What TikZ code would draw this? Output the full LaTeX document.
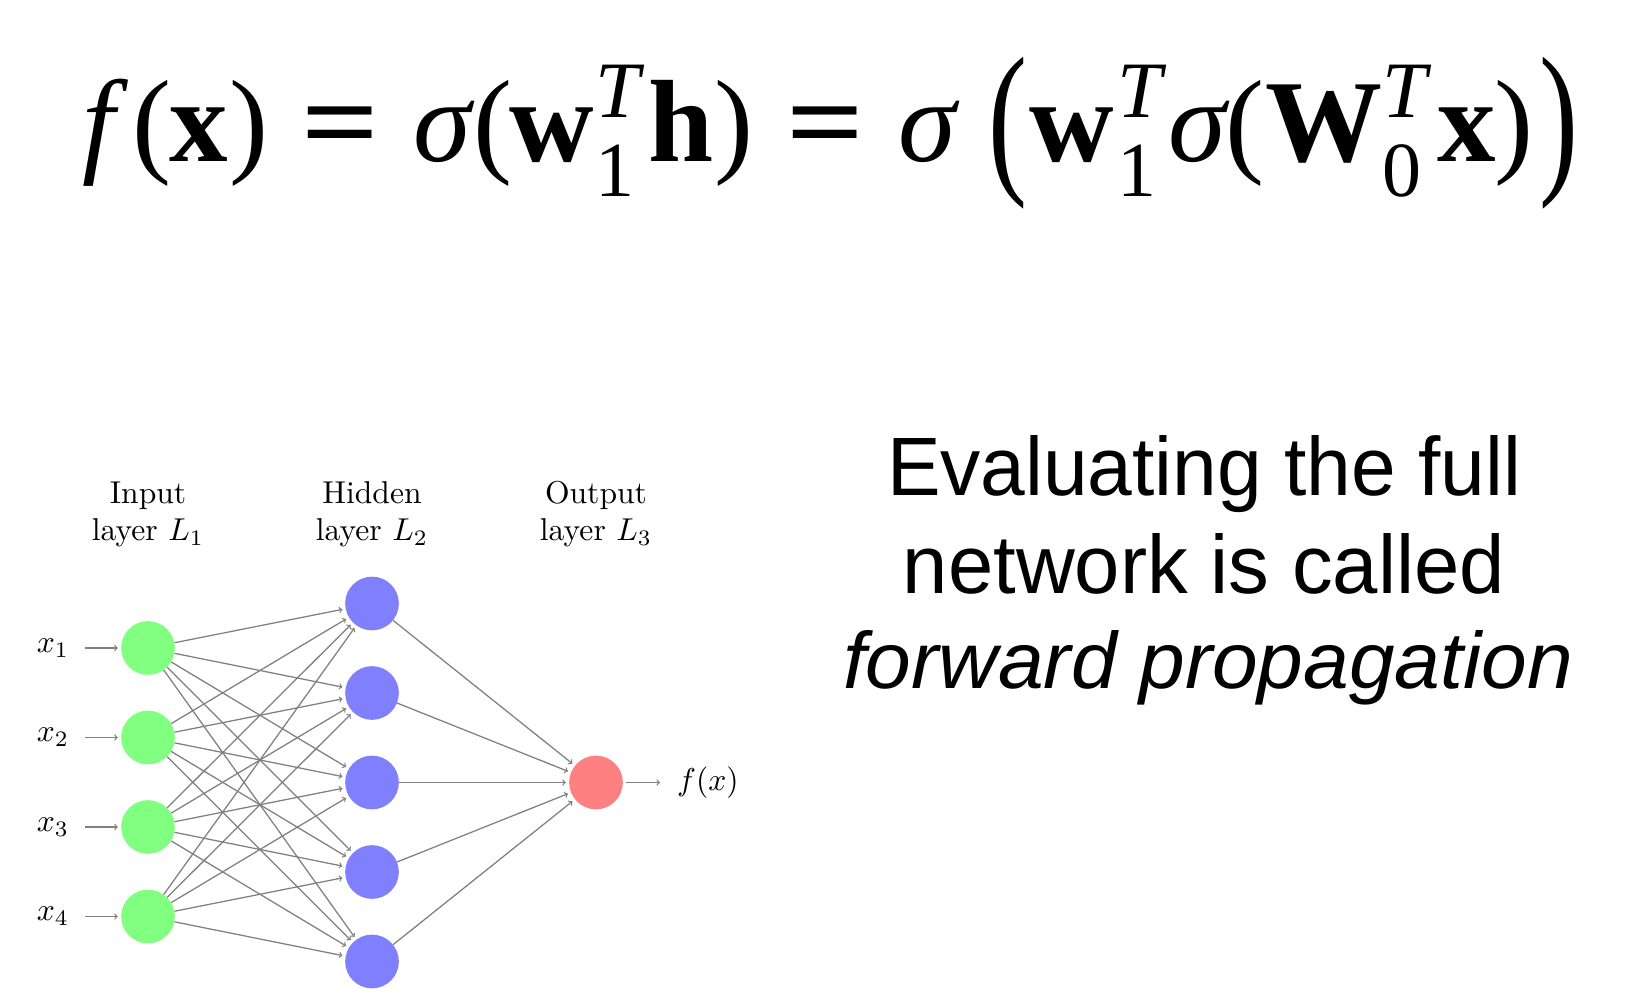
\documentclass[tikz,border=0pt]{standalone}
\usepackage{fontspec}
\usepackage{graphicx}
\newfontfamily\tms{Liberation Serif}
\newfontfamily\hel{Liberation Sans}
% place a glyph group with its origin at horizontal offset #1 (pt)
\newcommand\gl[2]{\rlap{\hspace*{#1pt}#2}}
\newcommand\eqs{\scalebox{1.17}[1]{\bfseries =}}
\newcommand\supT{\fontsize{80}{80}\selectfont\raisebox{44pt}{\itshape T}}
\newcommand\subn[1]{\fontsize{78}{78}\selectfont\raisebox{-35pt}{#1}}
\newcommand\bigparen[1]{\raisebox{-11.3pt}{\scalebox{1}[1.433]{#1}}}
% network labels: 10pt text scaled like the original figure
\newcommand\nl[1]{\scalebox{3.16}{\fontsize{10}{12}\selectfont #1}}
\tikzset{
  neuron/.style={circle,minimum size=53.7pt,inner sep=0pt,draw=none},
  inneuron/.style={neuron,fill=green!50},
  hidneuron/.style={neuron,fill=blue!50},
  outneuron/.style={neuron,fill=red!50},
  conn/.style={->,draw=black!50,line width=1.26pt,shorten >=3.16pt},
  netlabel/.style={inner sep=0pt},
  annot/.style={netlabel,anchor=base},
  bigtext/.style={inner sep=0pt,anchor=base}
}
\begin{document}
\begin{tikzpicture}[x=1pt,y=1pt]
\useasboundingbox (0,0) rectangle (1628,-1000);
\fill[white] (0,0) rectangle (1628,-1000);

% formula
\node[inner sep=0pt,anchor=base west] (formula) at (0,-162)
 {\tms\fontsize{117}{120}\selectfont
  \gl{82}{\itshape f}\gl{131.4}{(}\gl{169}{\bfseries x}\gl{228.6}{)}%
  \gl{300.5}{\eqs}%
  \gl{413}{\itshape σ}\gl{472.4}{(}\gl{509.3}{\bfseries w}\gl{595}{\supT}\gl{595}{\subn{1}}%
  \gl{648}{\bfseries h}\gl{713.6}{)}%
  \gl{785.5}{\eqs}%
  \gl{898}{\itshape σ}\gl{987.4}{\bigparen{(}}\gl{1029.3}{\bfseries w}\gl{1117.3}{\supT}\gl{1117}{\subn{1}}%
  \gl{1168}{\itshape σ}\gl{1224.4}{(}\gl{1264.8}{\bfseries W}\gl{1382.3}{\supT}\gl{1382}{\subn{0}}%
  \gl{1436.4}{\bfseries x}\gl{1493.6}{)}\gl{1538.6}{\bigparen{)}}};

% right text
\node[bigtext] (t1) at (1204,-495) {\resizebox{634pt}{60pt}{\hel\fontsize{80}{80}\selectfont Evaluating the full}};
\node[bigtext] (t2) at (1204,-593) {\resizebox{602pt}{60pt}{\hel\fontsize{80}{80}\selectfont network is called}};
\node[bigtext] (t3) at (1208,-688) {\resizebox{730pt}{58pt}{\hel\itshape\fontsize{80}{80}\selectfont forward propagation}};

% neurons
\foreach \i/\y in {1/648,2/737.5,3/827,4/916.5}
  \node[inneuron] (I-\i) at (148,-\y) {};
\foreach \j/\y in {1/603.5,2/693,3/782.5,4/872,5/961.5}
  \node[hidneuron] (H-\j) at (372,-\y) {};
\node[outneuron] (O) at (596,-782.5) {};

% input labels
\foreach \i/\y in {1/648,2/737.5,3/827,4/916.5}{
  \node[netlabel] (X-\i) at (53,-\y) {\nl{$x_{\i}$}};
  \draw[conn,shorten <=16pt] (X-\i) -- (I-\i);
}
\node[netlabel,anchor=west] (FX) at (677,-782.5) {\nl{$f(x)$}};
\draw[conn,shorten <=3pt,shorten >=17pt] (O) -- (FX);

% connections
\foreach \i in {1,...,4}
  \foreach \j in {1,...,5}
    \draw[conn] (I-\i) -- (H-\j);
\foreach \j in {1,...,5}
  \draw[conn] (H-\j) -- (O);

% annotations
\node[annot] (A1) at (148,-503) {\nl{\begin{tabular}[t]{@{}c@{}}Input\\layer $L_1$\end{tabular}}};
\node[annot] (A2) at (372,-503) {\nl{\begin{tabular}[t]{@{}c@{}}Hidden\\layer $L_2$\end{tabular}}};
\node[annot] (A3) at (596,-503) {\nl{\begin{tabular}[t]{@{}c@{}}Output\\layer $L_3$\end{tabular}}};
\end{tikzpicture}
\end{document}
